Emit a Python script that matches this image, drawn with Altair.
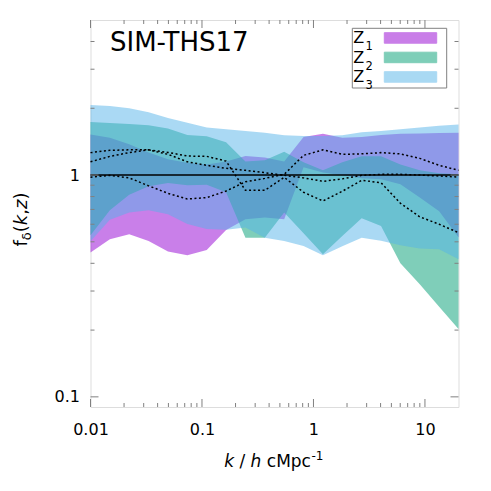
import altair as alt
import pandas as pd

# ---- data ----
k = [0.01, 0.01492, 0.02226, 0.03321, 0.04954, 0.07391, 0.1103, 0.1645, 0.2454, 0.3661,
     0.5462, 0.8149, 1.216, 1.814, 2.706, 4.037, 6.023, 8.986, 13.41, 20.0]

z1_hi = [1.525, 1.474, 1.375, 1.262, 1.177, 1.137, 1.117, 1.152, 1.218, 1.201,
         1.152, 1.483, 1.536, 1.474, 1.483, 1.514, 1.536, 1.541, 1.546, 1.552]
z1_lo = [0.447, 0.513, 0.541, 0.504, 0.452, 0.435, 0.459, 0.565, 0.632, 0.643,
         0.632, 1.083, 1.028, 0.997, 0.966, 0.956, 0.908, 0.793, 0.686, 0.524]
z1_mid = [0.978, 0.997, 0.971, 0.894, 0.827, 0.780, 0.791, 0.847, 0.932, 0.966,
          1.007, 1.227, 1.299, 1.240, 1.246, 1.262, 1.246, 1.189, 1.106, 1.050]

z2_hi = [1.736, 1.715, 1.697, 1.675, 1.623, 1.514, 1.494, 1.404, 1.152, 1.165,
         1.275, 1.141, 1.050, 1.141, 1.214, 1.214, 1.117, 1.050, 1.018, 1.007]
z2_lo = [0.535, 0.693, 0.814, 0.889, 0.920, 0.899, 0.903, 0.836, 0.522, 0.522,
         0.677, 0.546, 0.439, 0.531, 0.638, 0.589, 0.400, 0.322, 0.255, 0.202]
z2_mid = [1.262, 1.292, 1.299, 1.299, 1.265, 1.218, 1.214, 1.156, 0.853, 0.853,
          0.976, 0.836, 0.764, 0.845, 0.946, 0.924, 0.746, 0.648, 0.600, 0.550]

z3_hi = [2.07, 2.05, 2.00, 1.92, 1.81, 1.72, 1.64, 1.61, 1.58, 1.55,
         1.51, 1.50, 1.50, 1.51, 1.56, 1.58, 1.61, 1.64, 1.67, 1.69]
z3_lo = [0.503, 0.628, 0.677, 0.693, 0.665, 0.602, 0.571, 0.566, 0.580, 0.522,
         0.504, 0.479, 0.435, 0.477, 0.522, 0.505, 0.482, 0.466, 0.463, 0.417]
z3_mid = [1.147, 1.214, 1.262, 1.299, 1.240, 1.147, 1.106, 1.072, 1.050, 1.025,
          0.997, 0.971, 0.937, 0.961, 0.997, 1.007, 1.007, 1.000, 0.990, 0.979]

series_names = ["Z1", "Z2", "Z3"]
series_colors = ["#9400d3", "#009e73", "#56b4e9"]

x_major = [0.01, 0.1, 1, 10]
x_minor = [0.02, 0.03, 0.04, 0.05, 0.06, 0.07, 0.08, 0.09,
           0.2, 0.3, 0.4, 0.5, 0.6, 0.7, 0.8, 0.9,
           2, 3, 4, 5, 6, 7, 8, 9]
y_major = [0.1, 1]
y_minor = [0.2, 0.3, 0.4, 0.5, 0.6, 0.7, 0.8, 0.9, 2, 3, 4]

W, H = 368, 387
FONT = "DejaVu Sans"
FRAME = "#808080"

xs = alt.Scale(type="log", domain=[0.01, 20], nice=False)
ys = alt.Scale(type="log", domain=[0.09, 5], nice=False)

XAX = alt.Axis(values=x_major, format="~g", grid=False, domain=False,
               ticks=False, tickSize=0, labelPadding=27, labelBaseline="alphabetic",
               labelFlush=False, labelOverlap=False,
               labelFont=FONT, labelFontSize=16, labelColor="black", title="")
YAX = alt.Axis(values=y_major, format="~g", grid=False, domain=False,
               ticks=False, tickSize=0, labelPadding=11,
               labelFlush=False, labelOverlap=False,
               labelFont=FONT, labelFontSize=16, labelColor="black", title="")


def X(field):
    return alt.X(field, type="quantitative", scale=xs, axis=XAX)


def Y(field):
    return alt.Y(field, type="quantitative", scale=ys, axis=YAX)


bands = [(z1_lo, z1_hi, z1_mid), (z2_lo, z2_hi, z2_mid), (z3_lo, z3_hi, z3_mid)]

layers = []
for i, (lo, hi, mid) in enumerate(bands):
    df = pd.DataFrame({"k": k, "lo": lo, "hi": hi})
    layers.append(
        alt.Chart(df).mark_area(color=series_colors[i], opacity=0.5)
        .encode(x=X("k"), y=Y("lo"), y2="hi:Q")
    )

# reference line at 1
one_df = pd.DataFrame({"v": [1]})
layers.append(alt.Chart(one_df).mark_rule(color="black", strokeWidth=1.5).encode(y=Y("v")))

# dotted median lines
for i, (lo, hi, mid) in enumerate(bands):
    df = pd.DataFrame({"k": k, "mid": mid})
    layers.append(
        alt.Chart(df).mark_line(color="black", strokeDash=[2, 2.5], strokeWidth=1.5)
        .encode(x=X("k"), y=Y("mid"))
    )


# inward ticks on all four sides
def xticks(vals, length):
    d = pd.DataFrame({"t": vals})
    bot = alt.Chart(d).mark_rule(color=FRAME, strokeWidth=1).encode(
        x=X("t"), y=alt.value(H), y2=alt.value(H - length))
    top = alt.Chart(d).mark_rule(color=FRAME, strokeWidth=1).encode(
        x=X("t"), y=alt.value(0), y2=alt.value(length))
    return [bot, top]


def yticks(vals, length):
    d = pd.DataFrame({"t": vals})
    left = alt.Chart(d).mark_rule(color=FRAME, strokeWidth=1).encode(
        y=Y("t"), x=alt.value(0), x2=alt.value(length))
    right = alt.Chart(d).mark_rule(color=FRAME, strokeWidth=1).encode(
        y=Y("t"), x=alt.value(W), x2=alt.value(W - length))
    return [left, right]


layers += xticks(x_major, 8) + xticks(x_minor, 4) + yticks(y_major, 8) + yticks(y_minor, 4)

dummy = pd.DataFrame({"d": [0]})


def txt(s, x, y, size, style="normal", angle=0, align="left", baseline="alphabetic"):
    kw = dict(text=s, font=FONT, fontSize=size, align=align, baseline=baseline, color="black")
    if style != "normal":
        kw["fontStyle"] = style
    if angle:
        kw["angle"] = angle
    return alt.Chart(dummy).mark_text(**kw).encode(x=alt.value(x), y=alt.value(y))


# panel label
layers.append(txt("SIM-THS17", 19.5, 30.5, 26))

# legend
legend_box = alt.Chart(dummy).mark_rect(fill="white", fillOpacity=0, stroke=FRAME, strokeWidth=1).encode(
    x=alt.value(261.8), x2=alt.value(356.2), y=alt.value(8.3), y2=alt.value(68))
layers.append(legend_box)
for i, c in enumerate(series_colors):
    top = 12.7 + 19.5 * i
    layers.append(alt.Chart(dummy).mark_rect(color=c, opacity=0.5, stroke=c, strokeWidth=1).encode(
        x=alt.value(293.8), x2=alt.value(346.2), y=alt.value(top), y2=alt.value(top + 10.5)))
    layers.append(txt("Z", 262.8, 23.3 + 19.5 * i, 16))
    layers.append(txt(str(i + 1), 275.0, 30.0 + 19.5 * i, 11.5))

# x-axis title: k / h cMpc^-1
fs = 17
xb = 446.7
layers.append(txt("k", 133.8, xb, fs, style="italic"))
layers.append(txt("/", 149.0, xb, fs))
layers.append(txt("h", 160.1, xb, fs, style="italic"))
layers.append(txt("cMpc", 176.3, xb, fs))
layers.append(txt("-1", 221.0, xb - 6.5, 12))

# y-axis title: f_delta(k,z), rotated
yf = 18
bx = -64
yy = 226.5
layers.append(txt("f", bx, yy, yf, angle=270))
layers.append(txt("δ", bx + 4, yy - 6.3, 13, angle=270))
layers.append(txt("(", bx, yy - 14.3, yf, angle=270))
layers.append(txt("k", bx, yy - 21.3, yf, style="italic", angle=270))
layers.append(txt(",", bx, yy - 31.7, yf, angle=270))
layers.append(txt("z", bx, yy - 37.4, yf, style="italic", angle=270))
layers.append(txt(")", bx, yy - 46.9, yf, angle=270))

chart = alt.layer(*layers).properties(
    width=W, height=H,
    padding={"left": 82.5, "top": 12, "right": 20, "bottom": 70},
    autosize="none",
).configure_view(stroke=FRAME, strokeWidth=1).configure(font=FONT)

chart.save("out.html", embed_options={"renderer": "svg", "actions": False})
